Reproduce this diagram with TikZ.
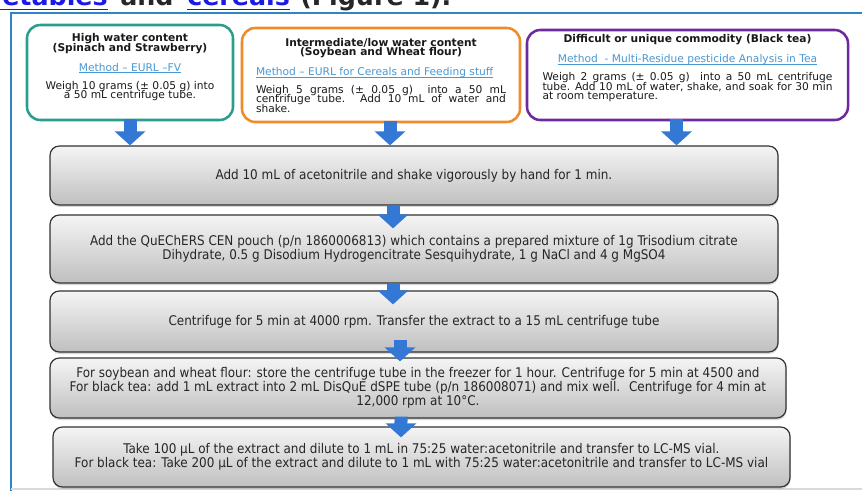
\documentclass[tikz,border=0pt]{standalone}
\usepackage{fontspec}
\setmainfont{DejaVu Sans}
\newfontfamily\stepfamily{DejaVu Sans Condensed}
\usetikzlibrary{arrows.meta, positioning, shadows}
\definecolor{framecol}{HTML}{2E86C8}
\definecolor{tealcol}{HTML}{2A9D8C}
\definecolor{orangecol}{HTML}{EE8B2A}
\definecolor{purplecol}{HTML}{6E2A9C}
\definecolor{flowblue}{HTML}{3478D6}
\definecolor{linkblue}{HTML}{4A98D2}
\definecolor{hyperblue}{HTML}{1A1AE6}
\newcommand{\linkline}[1]{\leavevmode\setbox0\hbox{#1}\rlap{\vrule width\wd0 height -.1em depth .17em}\box0}
\newcommand{\weblink}[1]{\textcolor{linkblue}{\linkline{#1}}}
\newcommand{\srcfont}{\fontsize{8}{7}\selectfont\lineskiplimit=-10pt\parindent=0pt}
\newcommand{\stepfont}{\stepfamily\fontsize{10}{10.5}\selectfont}
\tikzset{
    flowchart/.style={x=0.75pt, y=-0.75pt, >=Stealth},
    heading/.style={inner sep=0pt, font=\fontsize{19}{20}\selectfont\bfseries},
    source/.style={draw, line width=1.9pt, rounded corners=10pt, fill=white},
    sourcetext/.style={inner sep=0pt, font=\srcfont, align=justify, text=black!90},
    stepbox/.style={draw=black!80, line width=0.9pt, rounded corners=7pt,
        top color=black!4, bottom color=black!25, align=center, font=\stepfont, text=black!85,
        drop shadow={opacity=0.3, shadow xshift=0.4pt, shadow yshift=-1.5pt}},
    blockarrow/.style={flowblue, line width=9.75pt, -{Triangle[width=22.5pt, length=10.5pt]}},
}

\begin{document}
\begin{tikzpicture}[flowchart]
    \fill[white] (0,0) rectangle (862,491);
    \useasboundingbox (0,0) rectangle (862,491);

    % cut-off heading of the page
    \node[heading, anchor=base east, hyperblue] (vegword) at (108,6) {\linkline{vegetables}};
    \node[heading, anchor=base west, black!85]  (andword) at (120,6) {and};
    \node[heading, anchor=base west, hyperblue] (cerword) at (187,6) {\linkline{cereals}};
    \node[heading, anchor=base west, black!85]  (figword) at (300,6) {(Figure 1).};

    \draw[framecol, line width=0.8pt] (11,491) -- (11,13) -- (862,13);
    \draw[black!15, line width=0.8pt] (11,489) -- (862,489);

    \node[source, draw=tealcol,    minimum width=154.5pt, minimum height=71.25pt] (hiwater) at (130,72.5)  {};
    \node[source, draw=orangecol,  minimum width=208.5pt, minimum height=70.5pt]  (midwater) at (381,75) {};
    \node[source, draw=purplecol,  minimum width=240.75pt, minimum height=67.5pt] (hardtea) at (687.5,75) {};

    \node[sourcetext, text width=150pt, below=7.2pt of hiwater.north] (hiwatertxt) {%
        {\centering\bfseries High water content\\(Spinach and Strawberry)\par}\vspace{8pt}
        {\centering\weblink{Method – EURL –FV}\par}\vspace{6.5pt}
        {\centering Weigh 10 grams (± 0.05 g) into\\a 50 mL centrifuge tube.\par}};
    \node[sourcetext, text width=187.5pt, below=8.4pt of midwater.north] (midwatertxt) {%
        {\centering\bfseries Intermediate/low water content\\(Soybean and Wheat flour)\par}\vspace{8pt}
        \weblink{Method – EURL for Cereals and Feeding stuff}\par\vspace{6.5pt}
        Weigh 5 grams (± 0.05 g) \ into a 50 mL\linebreak centrifuge tube. Add 10 mL of water and\linebreak shake.\par};
    \node[sourcetext, text width=217.5pt, below=4.4pt of hardtea.north] (hardteatxt) {%
        {\centering\bfseries Difficult or unique commodity (Black tea)\par}\vspace{8pt}
        {\centering\weblink{Method \ - Multi-Residue pesticide Analysis in Tea}\par}\vspace{6.5pt}
        Weigh 2 grams (± 0.05 g) \ into a 50 mL centrifuge\linebreak tube. Add 10 mL of water, shake, and soak for 30 min\linebreak at room temperature.\par};

    \node[stepbox, minimum width=546pt, minimum height=44.25pt] (stepA) at (414,175.5)
        {Add 10 mL of acetonitrile and shake vigorously by hand for 1 min.};
    \node[stepbox, minimum width=546pt, minimum height=51pt] (stepB) at (414,249)
        {Add the QuEChERS CEN pouch (p/n 1860006813) which contains a prepared mixture of 1g Trisodium citrate\\
         Dihydrate, 0.5 g Disodium Hydrogencitrate Sesquihydrate, 1 g NaCl and 4 g MgSO4};
    \node[stepbox, minimum width=546pt, minimum height=45.75pt] (stepC) at (414,321.5)
        {Centrifuge for 5 min at 4000 rpm. Transfer the extract to a 15 mL centrifuge tube};
    \node[stepbox, minimum width=552pt, minimum height=45pt] (stepD) at (418,388)
        {For soybean and wheat flour: store the centrifuge tube in the freezer for 1 hour. Centrifuge for 5 min at 4500 and\\
         For black tea: add 1 mL extract into 2 mL DisQuE dSPE tube (p/n 186008071) and mix well. \ Centrifuge for 4 min at\\
         12,000 rpm at 10°C.};
    \node[stepbox, minimum width=552.75pt, minimum height=45pt] (stepE) at (421.5,457)
        {Take 100 µL of the extract and dilute to 1 mL in 75:25 water:acetonitrile and transfer to LC-MS vial.\\
         For black tea: Take 200 µL of the extract and dilute to 1 mL with 75:25 water:acetonitrile and transfer to LC-MS vial};

    % sources into the first step
    \draw[blockarrow] ([yshift=1.5pt]hiwater.south) -- (hiwater.south |- stepA.north);
    \draw[blockarrow] ([xshift=6.75pt, yshift=1.5pt]midwater.south) -- ([xshift=6.75pt]midwater.south |- stepA.north);
    \draw[blockarrow] ([xshift=-8.25pt, yshift=1.5pt]hardtea.south) -- ([xshift=-8.25pt]hardtea.south |- stepA.north);

    % step to step
    \draw[blockarrow] ([xshift=-15.75pt]stepA.south) -- ([xshift=-15.75pt, yshift=-10.5pt]stepB.north);
    \draw[blockarrow] ([xshift=-15.75pt]stepB.south) -- ([xshift=-15.75pt, yshift=-10.5pt]stepC.north);
    \draw[blockarrow] ([xshift=-10.5pt, yshift=9.75pt]stepC.south) -- ([xshift=-13.5pt, yshift=-3pt]stepD.north);
    \draw[blockarrow] ([xshift=-12.75pt, yshift=1.5pt]stepD.south) -- ([xshift=-15.4pt, yshift=-8.25pt]stepE.north);
\end{tikzpicture}
\end{document}
